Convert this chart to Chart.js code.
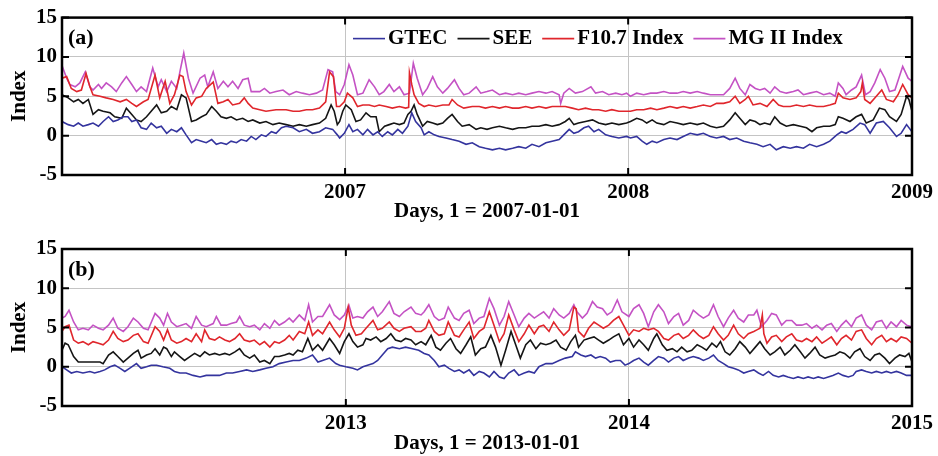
<!DOCTYPE html>
<html><head><meta charset="utf-8">
<script src="https://cdn.jsdelivr.net/npm/chart.js@4.4.0/dist/chart.umd.min.js"></script>
<style>
html,body{margin:0;padding:0;background:#fff;}
#wrap{position:relative;width:938px;height:456px;}
.pane{position:absolute;left:0;width:938px;}
</style></head><body>
<div id="wrap">
<div class="pane" style="top:0;height:228px"><canvas id="ca"></canvas></div>
<div class="pane" style="top:228px;height:228px"><canvas id="cb"></canvas></div>
</div>
<script>
// x values are days counted from the start of the first year shown in each panel
const seriesNames = ['GTEC', 'SEE', 'F10.7 Index', 'MG II Index'];
const yTicks = [-5, 0, 5, 10, 15];
const tickDaysA = [365, 730, 1096];
const tickLabelsA = ['2007', '2008', '2009'];
const tickDaysB = [366, 731, 1096];
const tickLabelsB = ['2013', '2014', '2015'];
const xTitleA = 'Days, 1 = 2007-01-01';
const xTitleB = 'Days, 1 = 2013-01-01';

// Panel (a)
const gtecA = [[0,1.8],[8,1.4],[15,1.2],[21,1.6],[27,1.2],[34,1.4],[40,1.6],[47,1.2],[53,1.8],[60,2.4],[66,1.8],[72,2.0],[79,2.4],[85,2.4],[90,1.8],[96,2.0],[102,1.0],[109,0.8],[115,1.6],[122,1.0],[128,1.2],[135,0.3],[141,0.8],[148,0.5],[154,1.0],[160,0.1],[167,-0.9],[173,-0.5],[180,-0.7],[186,-0.9],[193,-0.5],[199,-1.1],[205,-0.9],[212,-1.1],[218,-0.7],[225,-0.9],[231,-0.5],[238,-0.7],[244,-0.1],[250,-0.5],[257,0.1],[263,-0.1],[270,0.5],[276,0.3],[283,1.0],[289,1.2],[298,1.0],[306,0.5],[315,0.8],[323,0.3],[332,0.5],[340,1.0],[349,0.8],[355,0.1],
  [358,-0.3],[364,0.3],[370,1.4],[375,0.5],[381,0.8],[388,0.1],[394,0.8],[401,0.1],[407,0.5],[413,-0.1],[420,0.5],[426,0.1],[433,0.8],[439,0.3],[446,1.2],[451,2.9],[456,1.8],[463,1.0],[467,0.1],[473,0.5],[480,0.1],[486,-0.1],[495,-0.3],[503,-0.5],[512,-0.7],[521,-1.1],[529,-0.9],[538,-1.4],[546,-1.6],[555,-1.8],[564,-1.6],[572,-1.8],[581,-1.6],[589,-1.4],[598,-1.6],[606,-1.1],[615,-1.4],[624,-0.9],[632,-0.7],[641,-0.5],[647,0.1],[654,0.8],[660,0.3],[666,0.5],[673,1.0],[679,1.2],[686,0.5],[692,0.8],[701,0.1],[709,-0.1],[718,-0.3],[728,-0.1],
  [733,-0.3],[741,-0.1],[748,-0.7],[754,-1.1],[761,-0.7],[767,-0.9],[776,-0.5],[784,-0.3],[793,-0.5],[801,-0.1],[810,0.3],[819,0.1],[827,0.3],[836,-0.1],[844,-0.3],[853,-0.1],[861,-0.5],[870,-0.3],[879,-0.7],[887,-0.9],[896,-1.1],[904,-1.4],[913,-1.1],[921,-1.8],[930,-1.4],[939,-1.6],[947,-1.4],[956,-1.6],[964,-1.1],[973,-1.4],[982,-1.1],[990,-0.7],[999,0.1],[1005,0.5],[1011,0.3],[1020,0.8],[1029,1.6],[1035,1.4],[1042,0.3],[1050,1.6],[1059,1.8],[1067,1.0],[1076,-0.1],[1082,0.3],[1089,1.4],[1096,0.5]];
const seeA = [[0,5.2],[8,4.8],[15,4.3],[21,4.6],[27,4.1],[34,4.6],[40,2.7],[47,3.3],[53,3.1],[62,2.9],[68,2.4],[77,2.2],[83,3.5],[90,2.7],[96,2.0],[102,1.8],[109,2.4],[115,3.1],[122,3.9],[128,2.9],[135,3.1],[141,3.7],[148,3.3],[154,5.2],[160,4.8],[167,1.8],[173,2.0],[180,2.4],[186,2.7],[193,3.7],[199,3.1],[205,2.4],[212,2.2],[218,2.4],[225,2.0],[233,2.2],[240,1.8],[246,2.0],[255,1.6],[263,1.8],[272,1.4],[280,1.6],[289,1.4],[298,1.2],[306,1.4],[315,1.2],[323,1.4],[332,1.6],[340,2.2],[347,3.9],[351,3.1],[355,1.4],
  [358,1.8],[362,3.1],[366,3.9],[373,3.3],[379,1.8],[385,2.0],[392,2.9],[398,2.4],[405,2.4],[409,0.5],[416,1.2],[422,1.4],[428,1.6],[435,1.4],[441,1.6],[446,2.7],[450,3.1],[454,3.9],[458,2.7],[465,1.2],[471,1.8],[478,1.6],[484,1.4],[491,1.6],[497,2.2],[503,2.7],[510,1.8],[516,1.2],[525,1.4],[534,0.8],[540,1.0],[548,0.8],[555,1.0],[564,1.2],[572,1.0],[581,0.8],[589,1.0],[598,1.0],[606,1.2],[615,1.2],[624,1.4],[632,1.2],[641,1.4],[649,1.8],[654,2.2],[660,1.4],[666,1.6],[675,1.8],[684,2.0],[692,1.6],[701,1.4],[709,1.6],[718,1.4],[728,1.6],
  [733,1.8],[741,2.2],[748,2.0],[754,1.6],[761,2.0],[767,1.6],[776,1.4],[784,1.8],[793,1.6],[801,1.4],[810,1.6],[819,1.4],[827,1.6],[836,1.2],[844,1.0],[853,1.2],[861,2.0],[868,2.9],[874,2.2],[881,1.4],[887,2.0],[894,1.8],[900,1.4],[906,1.6],[913,1.4],[919,2.4],[926,1.6],[934,1.2],[943,1.4],[952,1.2],[960,1.0],[967,0.5],[973,1.0],[982,1.2],[990,1.2],[997,1.4],[1001,2.4],[1007,2.2],[1016,1.8],[1024,2.4],[1031,2.7],[1037,1.6],[1046,2.0],[1054,3.5],[1061,3.3],[1067,2.4],[1076,1.8],[1082,2.7],[1089,5.0],[1092,4.6],[1096,3.1]];
const f107A = [[0,7.3],[6,7.5],[12,6.0],[19,5.6],[25,5.8],[31,7.9],[36,6.2],[40,5.2],[49,5.0],[57,4.8],[66,4.6],[75,4.3],[83,4.6],[90,4.1],[96,3.7],[105,4.3],[111,4.6],[120,7.7],[126,4.8],[133,6.9],[139,4.1],[145,5.2],[152,7.7],[156,7.5],[160,5.6],[167,3.9],[173,4.8],[180,5.0],[186,6.0],[195,6.8],[201,4.1],[208,4.3],[214,4.6],[220,3.9],[229,4.1],[235,4.8],[240,4.1],[246,3.5],[255,3.3],[263,3.1],[276,3.3],[289,3.3],[298,3.1],[306,3.1],[315,3.3],[323,3.3],[332,3.5],[340,4.3],[345,8.1],[350,7.5],[354,3.7],
  [358,3.7],[364,4.3],[368,5.4],[375,4.8],[381,3.7],[388,3.9],[396,3.9],[403,3.7],[409,3.9],[418,3.7],[426,3.5],[435,3.7],[443,3.5],[447,3.6],[448,8.0],[451,6.5],[454,5.2],[460,4.1],[467,3.7],[473,3.9],[482,3.7],[491,3.9],[499,3.9],[503,4.6],[510,3.9],[518,3.5],[529,3.7],[538,3.7],[546,3.5],[555,3.7],[564,3.5],[572,3.7],[581,3.5],[589,3.5],[598,3.7],[606,3.5],[615,3.7],[624,3.5],[632,3.7],[641,3.7],[649,3.7],[658,3.5],[666,3.3],[675,3.5],[684,3.3],[692,3.3],[701,3.1],[709,3.3],[718,3.1],[728,3.1],
  [733,3.1],[741,3.3],[750,3.3],[759,3.5],[767,3.3],[776,3.5],[784,3.7],[793,3.5],[801,3.7],[810,3.5],[819,3.7],[827,3.9],[836,3.7],[844,4.1],[853,4.1],[861,4.3],[868,5.0],[874,4.1],[881,4.6],[885,5.0],[891,3.9],[900,4.1],[909,3.7],[917,4.6],[924,3.9],[930,3.7],[939,3.7],[947,3.9],[956,3.7],[964,3.9],[973,3.7],[982,3.7],[990,3.9],[997,4.1],[1001,5.4],[1007,4.8],[1016,4.6],[1024,4.8],[1030,5.6],[1032,6.7],[1035,4.6],[1042,4.1],[1050,5.0],[1057,5.8],[1063,4.6],[1072,4.3],[1078,5.2],[1084,6.5],[1091,5.2],[1096,4.8]];
const mgA = [[0,8.9],[6,7.3],[10,6.5],[17,6.2],[23,6.7],[30,8.1],[36,6.2],[40,5.8],[47,6.5],[51,6.0],[57,6.7],[64,6.2],[70,5.6],[77,6.7],[83,7.5],[90,6.5],[96,5.6],[102,6.2],[109,5.6],[117,8.6],[124,6.2],[128,7.1],[135,5.6],[141,6.9],[148,6.0],[152,8.1],[157,10.5],[163,7.3],[169,5.4],[178,7.3],[184,7.7],[188,6.2],[195,8.1],[201,6.0],[208,6.9],[214,6.2],[220,6.9],[227,6.0],[233,7.1],[240,7.3],[244,5.6],[255,5.6],[261,6.0],[268,5.4],[276,5.6],[285,5.8],[293,5.2],[302,5.6],[310,5.4],[319,5.2],[328,5.4],[336,5.8],[343,8.4],[349,8.1],[353,5.6],
  [358,5.2],[364,6.5],[370,9.0],[375,7.7],[381,5.2],[388,5.4],[396,7.1],[403,6.2],[409,5.2],[415,5.6],[422,6.5],[428,5.6],[435,6.2],[441,5.2],[448,5.4],[453,9.2],[458,7.3],[465,5.2],[471,6.0],[478,7.5],[484,6.2],[491,5.4],[497,6.0],[506,7.1],[512,6.0],[518,5.2],[525,5.4],[534,6.2],[540,5.4],[548,5.6],[555,5.8],[564,5.2],[572,5.4],[581,5.2],[589,5.4],[598,5.2],[606,5.4],[615,5.6],[624,5.4],[632,5.6],[641,5.2],[643,4.1],[647,5.4],[654,6.0],[662,5.4],[671,5.6],[682,6.2],[688,5.4],[697,5.6],[705,5.2],[714,5.4],[722,5.2],[728,5.4],
  [733,5.0],[741,5.4],[750,5.2],[759,5.4],[767,5.4],[776,5.6],[784,5.4],[793,5.4],[801,5.6],[810,5.4],[819,5.6],[827,5.4],[836,5.2],[844,5.2],[853,5.2],[861,6.0],[868,7.3],[874,6.0],[881,5.2],[887,6.5],[894,6.0],[900,5.8],[906,6.0],[913,5.4],[919,6.2],[926,5.6],[934,5.4],[943,5.6],[949,5.8],[956,5.2],[964,5.4],[973,5.6],[982,5.2],[990,5.4],[997,5.0],[1001,6.7],[1007,6.0],[1011,5.2],[1018,5.8],[1024,6.2],[1031,7.7],[1036,5.2],[1042,5.6],[1048,6.7],[1055,8.4],[1061,7.3],[1067,5.6],[1074,5.8],[1079,7.3],[1084,8.8],[1091,7.3],[1096,6.9]];

// Panel (b)
const gtecB = [[0,0],[6,-0.4],[12,-0.8],[19,-0.6],[27,-0.8],[36,-0.6],[42,-0.8],[49,-0.6],[55,-0.4],[62,0],[68,0.2],[75,-0.2],[81,-0.6],[87,-0.2],[96,0.4],[102,-0.2],[109,0],[115,0.2],[122,0.2],[130,0],[139,-0.2],[145,-0.6],[152,-0.8],[160,-0.8],[169,-1.1],[178,-1.3],[186,-1.1],[195,-1.1],[203,-1.1],[212,-0.8],[220,-0.8],[229,-0.6],[238,-0.4],[246,-0.6],[255,-0.4],[263,-0.2],[272,0],[280,0.4],[289,0.6],[298,0.8],[306,0.8],[315,1.1],[323,1.5],[330,0.6],[336,0.8],[345,1.1],[353,0.4],
  [358,0.2],[366,0],[375,-0.2],[381,-0.4],[388,0],[394,0.2],[401,0.4],[407,0.8],[413,1.5],[420,2.3],[426,2.5],[435,2.3],[443,2.5],[452,2.3],[460,2.1],[467,1.7],[473,1.5],[480,0.8],[486,0],[493,0.2],[499,-0.2],[506,-0.6],[512,-0.4],[518,-0.8],[525,-0.4],[531,-1.1],[538,-0.6],[544,-0.8],[551,-1.3],[557,-0.6],[564,-1.3],[570,-1.5],[576,-0.8],[583,-0.4],[589,-1.1],[596,-0.8],[602,-0.6],[609,-0.8],[615,0],[624,0.4],[632,0.4],[641,0.8],[649,1.1],[658,1.3],[662,1.9],[669,1.5],[675,1.3],[682,1.5],[688,1.1],[694,1.3],[701,1.1],[707,0.6],[714,0.8],[720,0.8],[726,0.2],
  [731,0.4],[737,0.8],[744,1.1],[750,0.6],[756,0.2],[763,0.8],[769,1.3],[776,1.1],[782,0.6],[789,1.1],[795,1.3],[801,0.8],[808,1.1],[814,1.3],[821,1.1],[827,0.8],[834,1.1],[840,1.5],[846,0.8],[853,0.4],[859,0],[866,-0.2],[872,-0.4],[879,-0.8],[885,-0.6],[892,-0.4],[898,-0.8],[904,-1.1],[911,-0.6],[917,-1.1],[924,-1.3],[930,-1.1],[936,-1.3],[943,-1.5],[949,-1.3],[956,-1.5],[962,-1.3],[969,-1.5],[975,-1.3],[982,-1.5],[988,-1.3],[994,-1.1],[1001,-0.8],[1007,-1.1],[1014,-1.3],[1020,-1.1],[1024,-0.6],[1031,-0.4],[1037,-0.6],[1044,-0.8],[1050,-0.6],[1057,-0.8],[1063,-0.6],[1069,-0.8],[1076,-0.6],[1082,-0.8],[1089,-1.1],[1096,-1.1]];
const seeB = [[0,2.1],[4,3.0],[8,2.8],[15,1.3],[21,0.6],[32,0.6],[40,0.6],[49,0.6],[53,0.4],[60,1.5],[66,1.9],[72,1.3],[79,0.6],[85,1.1],[92,1.7],[98,2.1],[102,1.1],[109,1.5],[115,1.7],[120,2.3],[126,1.5],[131,2.5],[135,2.3],[141,1.3],[145,1.9],[152,1.3],[158,0.8],[165,1.3],[171,1.7],[178,1.3],[184,1.9],[190,1.5],[197,1.7],[203,1.5],[210,1.7],[216,1.5],[223,1.9],[229,2.3],[235,1.5],[242,1.1],[248,1.5],[255,0.6],[261,0.8],[268,0.4],[274,1.3],[280,1.3],[287,1.5],[293,1.7],[298,1.5],[304,2.1],[310,1.9],[317,3.6],[323,2.1],[330,2.8],[336,2.1],[345,3.6],[351,2.8],
  [358,1.7],[364,3.2],[370,4.2],[375,3.2],[381,2.5],[388,2.8],[392,3.6],[398,3.4],[405,3.8],[411,3.2],[418,3.6],[424,4.2],[430,3.4],[437,3.2],[443,3.6],[450,3.4],[456,2.8],[463,3.2],[469,2.8],[476,4.0],[482,2.5],[488,2.1],[495,3.0],[501,3.6],[508,2.3],[514,1.7],[521,2.8],[527,3.8],[533,1.5],[540,2.3],[546,2.5],[553,4.0],[559,2.5],[566,0.2],[572,2.1],[579,4.5],[585,2.8],[591,1.1],[598,2.8],[604,3.4],[611,2.3],[617,3.0],[624,2.8],[630,3.0],[637,3.4],[643,2.5],[650,2.1],[656,3.2],[662,4.0],[666,2.5],[673,3.4],[679,3.6],[686,3.8],[692,3.4],[698,3.0],[705,3.4],[711,3.8],[718,4.2],
  [724,2.8],[731,3.6],[737,2.5],[744,3.4],[750,2.8],[756,2.1],[763,3.6],[767,4.2],[774,2.8],[780,2.1],[787,2.3],[793,1.9],[799,2.5],[806,1.9],[812,2.1],[819,2.8],[825,2.5],[831,2.1],[838,3.0],[844,2.5],[849,3.2],[855,1.9],[861,1.5],[868,2.3],[874,3.2],[881,2.5],[887,1.7],[894,2.5],[900,3.2],[906,2.3],[913,1.5],[919,1.9],[926,2.5],[932,1.5],[939,2.1],[945,2.8],[952,1.9],[958,1.1],[964,1.7],[971,2.5],[977,1.5],[984,1.1],[990,1.3],[997,1.5],[1003,1.9],[1009,1.7],[1016,1.1],[1022,1.9],[1029,2.3],[1035,1.3],[1042,0.8],[1048,1.5],[1054,1.7],[1061,1.1],[1067,0.4],[1074,1.1],[1080,1.5],[1087,1.3],[1092,1.7],[1096,0.6]];
const f107B = [[0,4.5],[4,5.1],[9,5.3],[15,3.4],[21,3.0],[27,3.2],[34,2.8],[40,3.2],[47,3.0],[53,2.8],[60,3.4],[66,4.5],[72,3.6],[79,3.2],[85,3.4],[92,4.0],[98,4.2],[105,3.2],[111,3.0],[120,5.1],[126,4.5],[131,3.4],[136,4.7],[141,3.4],[148,3.0],[154,3.2],[160,3.6],[167,3.2],[173,4.2],[180,3.2],[184,4.7],[190,3.6],[197,3.4],[203,3.8],[210,3.4],[216,3.2],[223,3.6],[229,4.2],[235,3.4],[242,3.2],[248,3.4],[255,2.8],[261,3.2],[268,2.5],[274,3.2],[280,3.0],[287,3.4],[293,4.0],[298,3.4],[306,4.5],[313,4.2],[318,5.7],[323,4.0],[330,4.7],[336,4.2],[345,5.7],[351,4.7],
  [358,3.8],[364,4.9],[369,7.6],[373,5.3],[379,4.0],[386,4.2],[392,4.9],[401,5.9],[407,4.7],[413,4.9],[422,5.7],[428,4.9],[435,4.5],[441,4.9],[450,5.1],[456,4.5],[463,4.5],[469,4.9],[473,5.9],[480,4.5],[486,4.0],[493,4.2],[498,5.7],[506,4.0],[512,3.8],[518,4.7],[525,5.7],[531,3.6],[538,4.5],[544,4.9],[551,7.0],[557,5.3],[564,3.2],[570,4.2],[576,6.6],[583,4.7],[589,3.2],[596,4.2],[602,5.3],[609,4.2],[615,5.1],[621,5.3],[628,4.5],[634,5.7],[641,4.7],[647,4.0],[654,4.7],[660,7.6],[663,7.4],[666,4.5],[673,3.8],[679,4.9],[686,5.7],[692,5.3],[698,4.9],[705,5.3],[711,5.9],[718,6.4],[724,5.3],
  [731,4.0],[737,4.7],[744,4.5],[750,4.9],[756,4.7],[763,4.9],[769,4.5],[776,3.6],[782,3.4],[789,4.0],[795,4.2],[801,3.6],[808,4.0],[814,4.7],[821,4.0],[827,3.6],[834,4.0],[840,5.1],[846,4.2],[853,3.4],[859,4.0],[866,5.3],[872,4.2],[879,3.6],[885,4.2],[892,4.5],[896,4.7],[900,4.9],[903,6.6],[905,4.2],[909,3.0],[915,3.8],[921,4.0],[928,3.2],[934,3.8],[941,4.2],[947,3.4],[954,3.2],[960,3.6],[967,3.2],[973,3.8],[980,3.0],[986,3.4],[992,3.8],[999,2.8],[1005,3.6],[1011,4.0],[1018,3.4],[1024,4.5],[1031,4.7],[1037,3.6],[1044,2.8],[1050,3.6],[1057,4.0],[1063,3.2],[1069,3.6],[1076,3.2],[1082,3.8],[1089,3.6],[1096,3.0]];
const mgB = [[0,6.2],[4,6.4],[9,7.2],[15,5.7],[21,4.7],[27,4.9],[34,4.7],[40,5.3],[47,4.9],[53,4.7],[60,5.3],[66,6.2],[72,4.9],[79,4.5],[85,5.1],[92,6.2],[98,5.7],[105,4.9],[111,4.7],[120,6.8],[126,6.2],[131,5.3],[136,6.8],[141,5.7],[148,5.1],[154,5.3],[160,5.5],[167,4.9],[173,6.4],[180,5.3],[186,5.1],[195,5.5],[199,6.4],[205,5.3],[212,5.3],[218,5.5],[225,5.7],[229,6.4],[235,5.3],[242,5.1],[248,5.3],[255,4.7],[261,5.5],[268,4.9],[274,5.9],[280,5.3],[287,5.7],[293,6.2],[298,5.7],[306,6.6],[313,5.9],[318,7.9],[323,5.7],[330,6.4],[336,6.4],[345,7.9],[351,6.6],
  [358,6.0],[364,6.6],[370,7.8],[375,6.2],[381,6.4],[388,6.2],[394,7.0],[401,7.6],[407,6.4],[413,7.0],[422,8.3],[428,6.8],[435,6.4],[441,7.0],[450,7.6],[456,6.8],[463,6.6],[467,7.0],[473,7.9],[480,6.4],[486,5.9],[493,6.2],[498,7.6],[506,6.2],[512,5.9],[518,6.8],[525,7.2],[531,5.5],[538,6.2],[544,6.4],[551,8.7],[557,7.4],[564,5.3],[570,6.4],[576,8.3],[583,6.6],[589,5.1],[596,6.2],[602,6.8],[609,6.2],[615,6.6],[621,7.0],[628,6.2],[634,7.4],[641,6.6],[647,6.2],[654,6.8],[660,7.9],[664,7.0],[671,6.2],[677,6.8],[684,8.3],[690,7.6],[697,7.4],[703,6.6],[709,7.0],[716,8.5],[722,7.0],
  [731,6.4],[737,7.4],[744,7.9],[750,6.8],[756,5.1],[763,7.0],[769,7.9],[776,7.0],[782,5.5],[789,6.4],[795,6.8],[801,5.3],[808,5.9],[814,7.2],[821,6.6],[827,6.2],[834,6.6],[840,7.9],[846,6.4],[853,5.1],[859,6.2],[866,7.2],[872,6.2],[879,5.7],[885,6.6],[892,6.6],[896,7.2],[902,5.1],[909,5.9],[915,6.8],[921,6.6],[928,5.3],[934,5.9],[941,5.9],[947,5.3],[954,5.3],[960,5.5],[967,4.9],[973,5.3],[980,4.7],[986,5.3],[992,5.5],[999,4.5],[1005,5.3],[1011,5.9],[1018,5.1],[1024,6.2],[1031,6.6],[1037,5.3],[1044,4.7],[1050,5.7],[1057,5.9],[1063,4.9],[1069,5.7],[1076,5.1],[1082,5.9],[1089,5.3],[1096,5.1]];

const colors = ['#34349e', '#151515', '#e0262c', '#c452c4'];
const FONT = '"Liberation Serif", "Times New Roman", serif';
Chart.defaults.font.family = FONT;
Chart.defaults.color = '#000';

const framePlugin = {
  id: 'frame',
  afterDatasetsDraw(chart, args, opts) {
    const {ctx, chartArea: a, scales: {x, y}} = chart;
    ctx.save();
    ctx.strokeStyle = '#000';
    ctx.lineWidth = 2;
    opts.tickDays.forEach(d => {
      const px = x.getPixelForValue(d);
      ctx.beginPath();
      ctx.moveTo(px, a.bottom); ctx.lineTo(px, a.bottom - 7);
      ctx.moveTo(px, a.top); ctx.lineTo(px, a.top + 7);
      ctx.stroke();
    });
    yTicks.forEach(v => {
      const py = y.getPixelForValue(v);
      ctx.beginPath();
      ctx.moveTo(a.left, py); ctx.lineTo(a.left + 7, py);
      ctx.moveTo(a.right, py); ctx.lineTo(a.right - 7, py);
      ctx.stroke();
    });
    ctx.lineWidth = 2.5;
    ctx.strokeRect(a.left, a.top, a.right - a.left, a.bottom - a.top);
    ctx.fillStyle = '#000';
    ctx.textBaseline = 'middle';
    ctx.textAlign = 'left';
    ctx.font = 'bold 22px ' + FONT;
    ctx.fillText(opts.label, a.left + 6, a.top + 21);
    if (opts.legend) {
      ctx.font = 'bold 21px ' + FONT;
      let lx = 353;
      const ly = a.top + 21;
      chart.data.datasets.forEach(ds => {
        ctx.strokeStyle = ds.borderColor;
        ctx.lineWidth = 1.6;
        ctx.beginPath(); ctx.moveTo(lx, ly); ctx.lineTo(lx + 32, ly); ctx.stroke();
        ctx.fillStyle = '#000';
        ctx.fillText(ds.label, lx + 35, ly);
        lx += 35 + ctx.measureText(ds.label).width + 10;
      });
    }
    ctx.restore();
  }
};

function makeChart(id, data, tickDays, tickLabels, xTitle, label, legend, padTop, xHeight, titlePad) {
  return new Chart(document.getElementById(id), {
    type: 'line',
    data: {
      datasets: data.map((arr, i) => ({
        label: seriesNames[i],
        data: arr.map(p => ({x: p[0], y: p[1]})),
        borderColor: colors[i],
        borderWidth: 1.6,
        pointRadius: 0,
        tension: 0,
        fill: false
      }))
    },
    options: {
      responsive: true,
      maintainAspectRatio: false,
      devicePixelRatio: 1,
      animation: false,
      layout: {padding: {top: padTop, right: 24, left: 0, bottom: 0}},
      plugins: {legend: {display: false}, tooltip: {enabled: false}, frame: {tickDays, label, legend}},
      scales: {
        x: {
          type: 'linear', min: 0, max: 1096,
          afterBuildTicks: s => { s.ticks = tickDays.map(v => ({value: v})); },
          afterFit: s => { s.height = xHeight; },
          ticks: {
            callback: v => tickLabels[tickDays.indexOf(v)],
            font: {size: 21, weight: 'bold'}, color: '#000', padding: 5,
            maxRotation: 0, autoSkip: false
          },
          grid: {color: '#c4c4c4', lineWidth: 1, drawTicks: false},
          border: {display: false},
          title: {display: true, text: xTitle, font: {size: 21, weight: 'bold'}, color: '#000', padding: {top: 0, bottom: titlePad}}
        },
        y: {
          min: -5, max: 15,
          afterBuildTicks: s => { s.ticks = yTicks.map(v => ({value: v})); },
          afterFit: s => { s.width = 62; },
          ticks: {font: {size: 21, weight: 'bold'}, color: '#000', padding: 5},
          grid: {color: '#c4c4c4', lineWidth: 1, drawTicks: false},
          border: {display: false},
          title: {display: true, text: 'Index', font: {size: 21, weight: 'bold'}, color: '#000', padding: {top: 7, bottom: 0}}
        }
      }
    },
    plugins: [framePlugin]
  });
}

makeChart('ca', [gtecA, seeA, f107A, mgA], tickDaysA, tickLabelsA, xTitleA, '(a)', true, 17, 53, 4);
makeChart('cb', [gtecB, seeB, f107B, mgB], tickDaysB, tickLabelsB, xTitleB, '(b)', false, 21, 50, 0);
</script>
</body></html>
